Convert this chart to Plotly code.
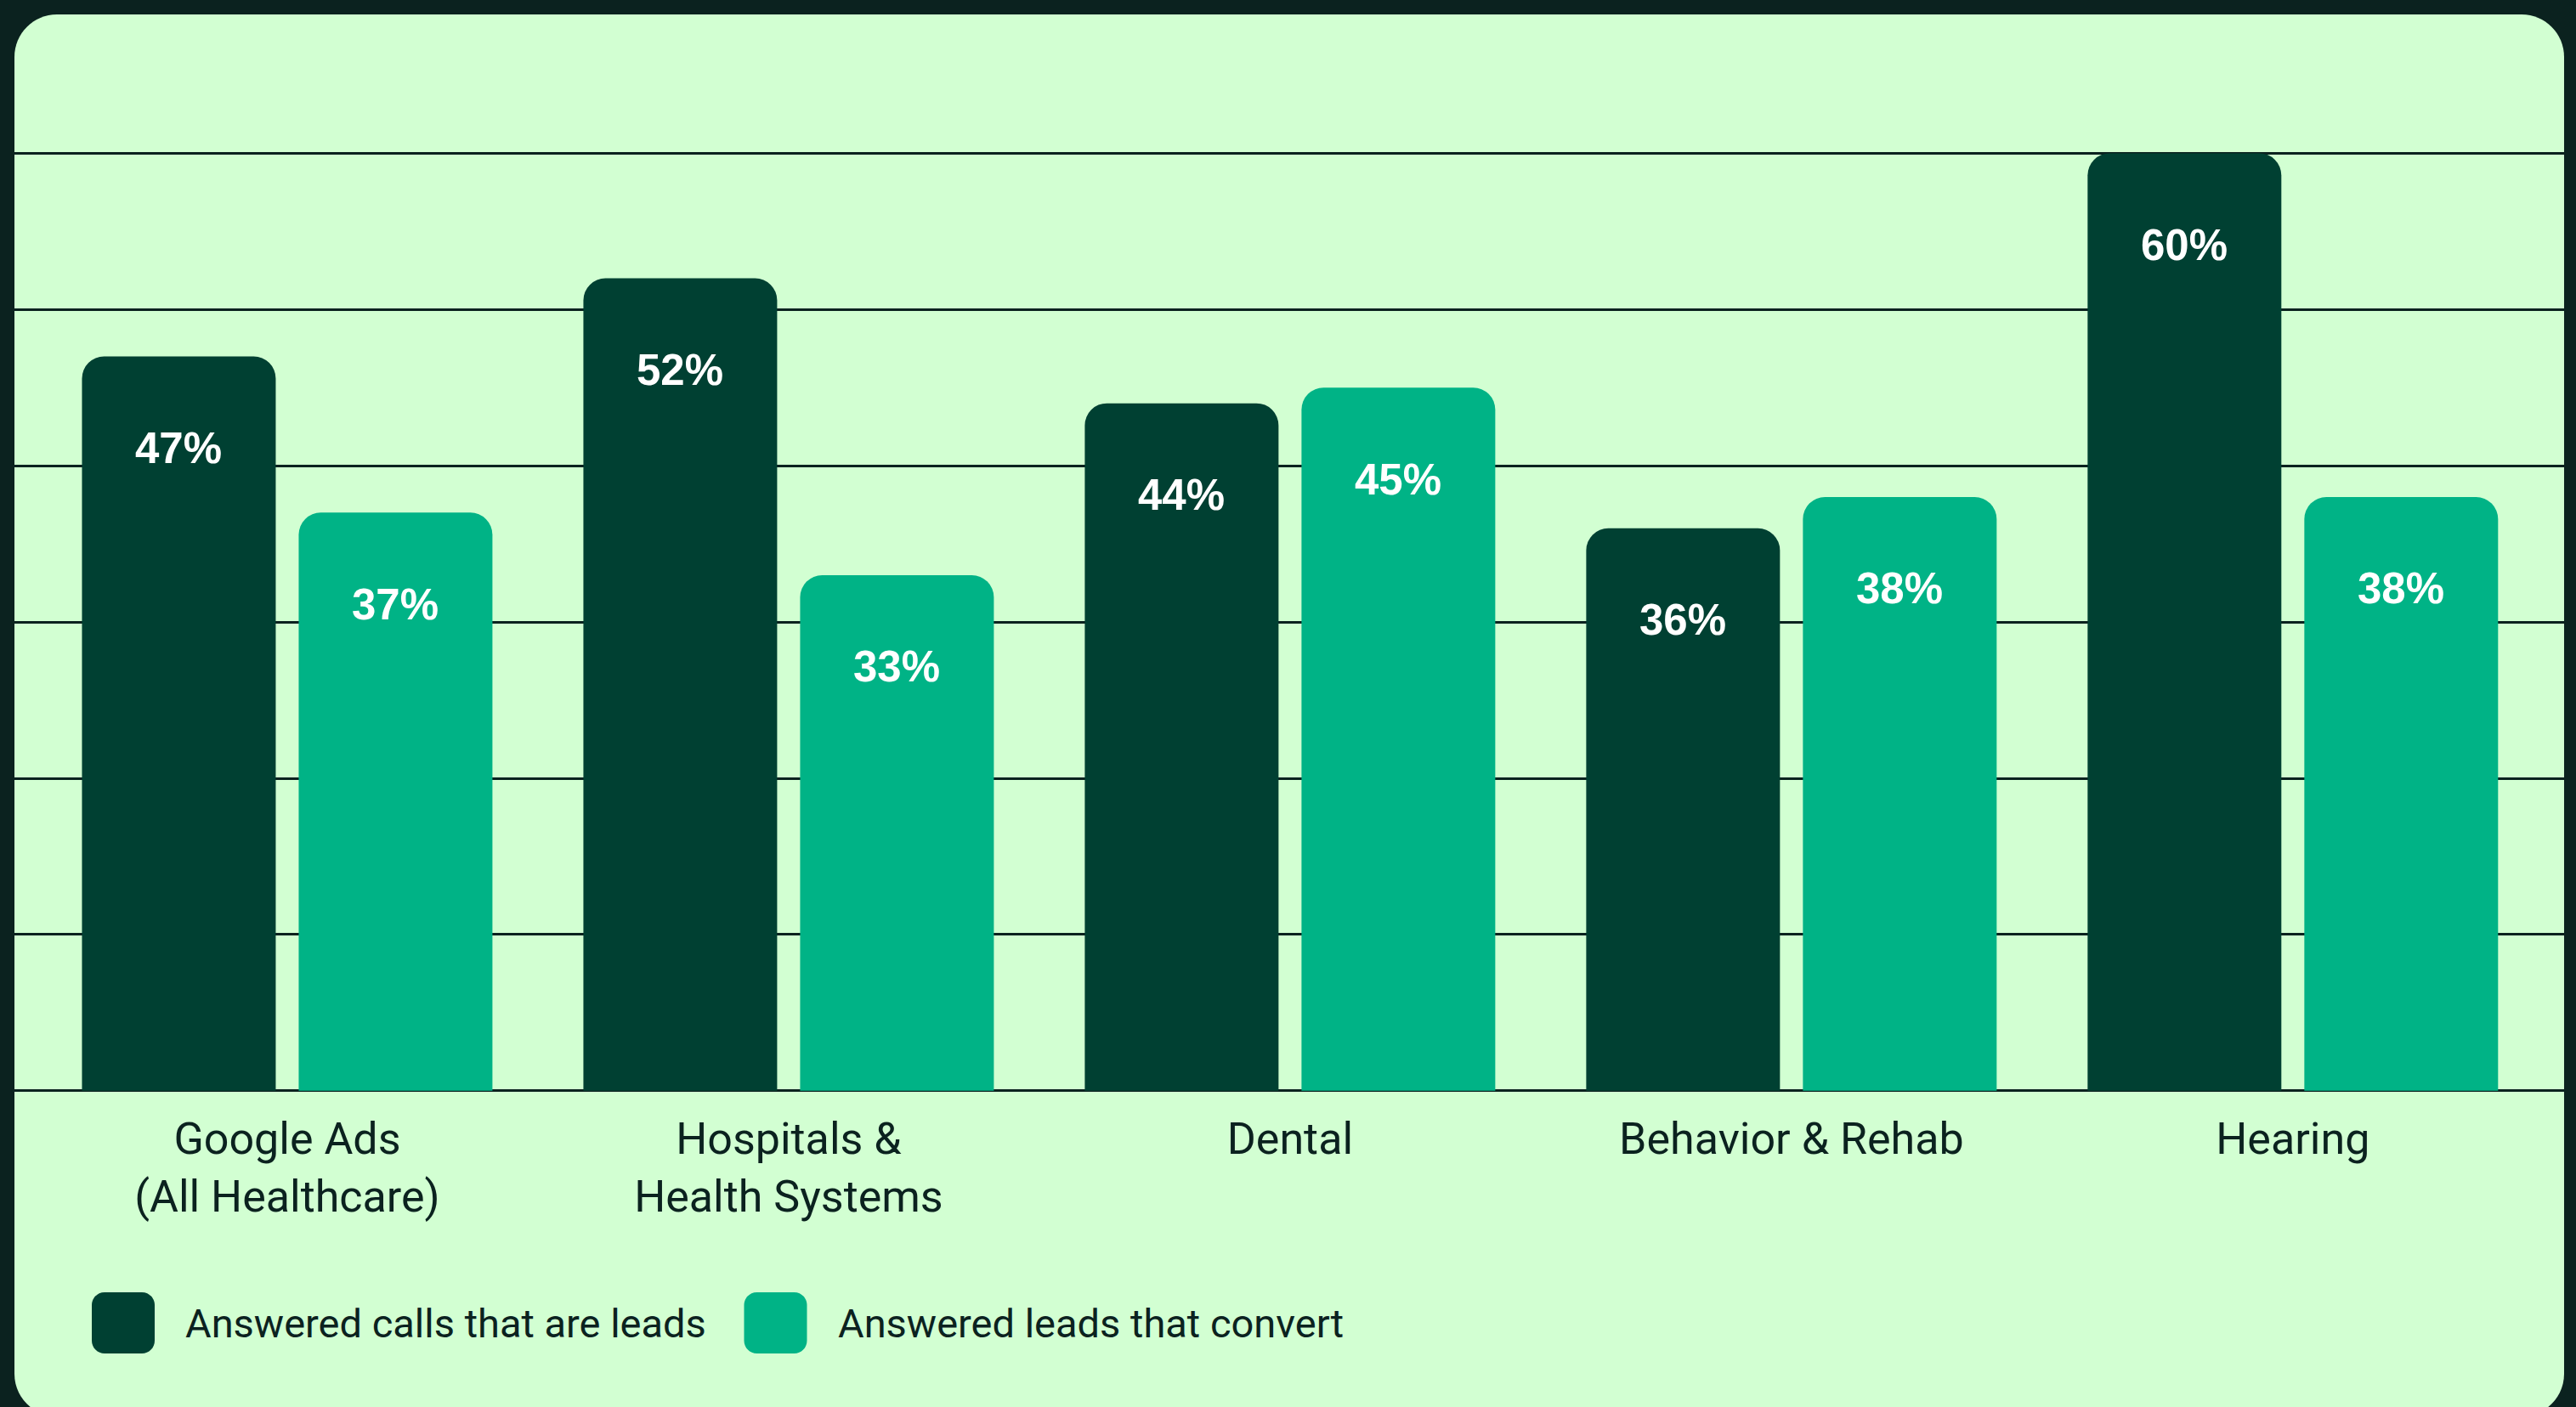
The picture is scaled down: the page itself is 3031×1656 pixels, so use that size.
import plotly.graph_objects as go

# ---------------- data ----------------
categories = ["Google Ads<br>(All Healthcare)", "Hospitals &<br>Health Systems", "Dental",
              "Behavior & Rehab", "Hearing"]
leads_values = [47, 52, 44, 36, 60]               # Answered calls that are leads
convert_values = [37, 33, 45, 38, 38]             # Answered leads that convert
series_names = ["Answered calls that are leads", "Answered leads that convert"]

# ---------------- style ----------------
W, H = 3031, 1656
FRAME = "#0b221f"
CARD = "#d2ffd2"
DARK = "#004032"
TEAL = "#00b386"
TEXT = "#0b221f"

ML, MR, MT, MB = 17, 14, 162, 363
PW = W - ML - MR
PH = H - MT - MB


def xp(px):
    return (px - ML) / PW


def yp(py):
    return (H - MB - py) / PH


def rrect(hw, hh, r):
    k = 0.5523 * r
    return (f"M {-hw + r},{-hh} L {hw - r},{-hh} C {hw - r + k},{-hh} {hw},{-hh + r - k} {hw},{-hh + r} "
            f"L {hw},{hh - r} C {hw},{hh - r + k} {hw - r + k},{hh} {hw - r},{hh} "
            f"L {-hw + r},{hh} C {-hw + r - k},{hh} {-hw},{hh - r + k} {-hw},{hh - r} "
            f"L {-hw},{-hh + r} C {-hw},{-hh + r - k} {-hw + r - k},{-hh} {-hw + r},{-hh} Z")


fig = go.Figure()
fig.add_trace(go.Bar(x=categories, y=leads_values, name=series_names[0],
                     marker=dict(color=DARK, line=dict(width=0)), hoverinfo="skip"))
fig.add_trace(go.Bar(x=categories, y=convert_values, name=series_names[1],
                     marker=dict(color=TEAL, line=dict(width=0)), hoverinfo="skip"))

slot_px = 127.5
label_font = dict(family="Liberation Sans, Arial", size=51, color="white", weight="bold")
annotations = []
for cat, v in zip(categories, leads_values):
    annotations.append(dict(x=cat, y=v, xref="x", yref="y", text=f"{v}%", showarrow=False,
                            xshift=-slot_px, yshift=-108, yanchor="middle", font=label_font))
for cat, v in zip(categories, convert_values):
    annotations.append(dict(x=cat, y=v, xref="x", yref="y", text=f"{v}%", showarrow=False,
                            xshift=slot_px, yshift=-108, yanchor="middle", font=label_font))

# legend (manual)
legend_items = [(145, 216, DARK, series_names[0]), (912.5, 984, TEAL, series_names[1])]
shapes = [dict(type="path", xref="paper", yref="paper", xsizemode="pixel", ysizemode="pixel",
               xanchor=xp(1517), yanchor=yp(842), path=rrect(1500, 825, 50),
               fillcolor=CARD, line=dict(width=0), layer="below")]
for sx, tx, col, name in legend_items:
    shapes.append(dict(type="path", xref="paper", yref="paper", xsizemode="pixel", ysizemode="pixel",
                       xanchor=xp(sx), yanchor=yp(1557), path=rrect(37, 36, 15),
                       fillcolor=col, line=dict(width=0), layer="above"))
    annotations.append(dict(x=xp(tx), y=yp(1557), xref="paper", yref="paper", text=name,
                            showarrow=False, xanchor="left", yanchor="middle",
                            font=dict(family="Roboto", size=47, color=TEXT)))

fig.update_layout(
    width=W, height=H,
    margin=dict(l=ML, r=MR, t=MT, b=MB, pad=0),
    paper_bgcolor=FRAME, plot_bgcolor="rgba(0,0,0,0)",
    barmode="group", bargap=0.1356, bargroupgap=0.106, barcornerradius=26,
    showlegend=False,
    shapes=shapes, annotations=annotations,
    xaxis=dict(type="category", range=[-0.544, 4.541], showgrid=False, zeroline=False,
               showline=False, ticks="", ticklabelstandoff=12,
               tickfont=dict(family="Roboto", size=52, color=TEXT),
               fixedrange=True),
    yaxis=dict(range=[-0.5, 61], dtick=10, tick0=0, showticklabels=False, showgrid=True,
               gridcolor=FRAME, gridwidth=3, zeroline=True, zerolinecolor=FRAME, zerolinewidth=3,
               showline=False, ticks="", fixedrange=True),
)

fig.write_html("out.html")
